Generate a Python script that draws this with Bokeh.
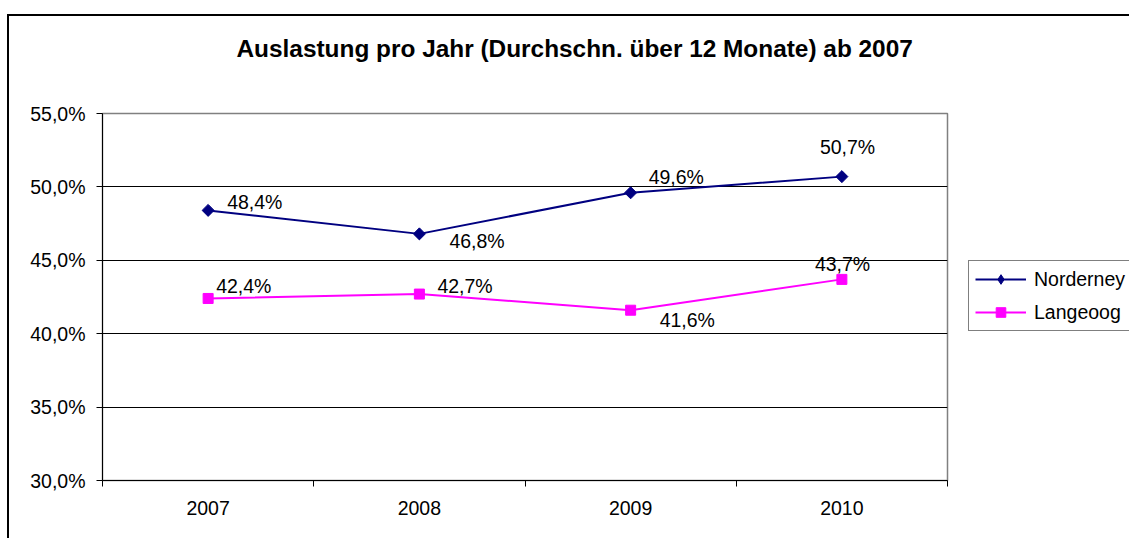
import numpy as np
from bokeh.plotting import figure
from bokeh.models import Range1d, FixedTicker, Legend, LegendItem, Title
from bokeh.core.properties import value
from bokeh.embed import file_html
from bokeh.resources import INLINE

# ---- data ----
years = ["2007", "2008", "2009", "2010"]
norderney = [48.4, 46.8, 49.6, 50.7]
langeoog = [42.4, 42.7, 41.6, 43.7]
y_ticks = [30, 35, 40, 45, 50, 55]
title_text = "Auslastung pro Jahr (Durchschn. über 12 Monate) ab 2007"

# ---- label offsets (style, screen px) ----
n_dx = [19, 30, 18, -22]
n_dy = [-8, 7, -16, -30]
l_dx = [8, 18, 29, -27]
l_dy = [-12, -8, 10, -15]

FONT = "Liberation Sans"
FS = "19.5px"
NAVY = "#000080"
MAGENTA = "#FF00FF"


def pct(v):
    return f"{v:.1f}".replace(".", ",") + "%"


xs = list(range(1, len(years) + 1))

p = figure(frame_width=845, frame_height=367,
           x_range=Range1d(0.5, len(years) + 0.5),
           y_range=Range1d(y_ticks[0], y_ticks[-1]),
           output_backend="svg", toolbar_location=None,
           min_border_left=102, min_border_right=182,
           min_border_top=113, min_border_bottom=58)
p.background_fill_color = "white"
p.border_fill_color = None
p.styles = {
    "background-color": "white",
    "background-image": "linear-gradient(#000, #000), linear-gradient(#000, #000)",
    "background-size": "2px 2000px, 3000px 2px",
    "background-position": "7px 14px, 7px 14px",
    "background-repeat": "no-repeat, no-repeat",
}
p.outline_line_color = "#808080"
p.outline_line_width = 1.5

# main title (plot title is always the outermost panel)
p.title.text = title_text
p.title.align = "left"
p.title.offset = 134
p.title.standoff = 0
p.title.vertical_align = "bottom"
p.title.text_font = FONT
p.title.text_font_style = "bold"
p.title.text_font_size = "24.4px"
p.title.text_color = "black"

# white spacer panel between the title and the plot frame
spacer = Title(text=".", text_color="white", text_font_size="10px", standoff=42)
p.add_layout(spacer, "above")

# x axis
xa = p.xaxis[0]
xa.ticker = FixedTicker(ticks=xs, minor_ticks=[x - 0.5 for x in xs] + [xs[-1] + 0.5])
xa.major_label_overrides = {x: y for x, y in zip(xs, years)}
xa.major_tick_out = 0
xa.major_tick_in = 0
xa.minor_tick_out = 6
xa.minor_tick_in = 0
xa.minor_tick_line_color = "black"
xa.axis_line_color = "black"
xa.major_label_standoff = 14
xa.major_label_text_font = FONT
xa.major_label_text_font_size = FS
xa.major_label_text_color = "black"

# y axis
ya = p.yaxis[0]
ya.ticker = FixedTicker(ticks=y_ticks)
ya.major_label_overrides = {t: pct(t) for t in y_ticks}
ya.major_tick_out = 6
ya.major_tick_in = 0
ya.major_tick_line_color = "black"
ya.axis_line_color = "black"
ya.major_label_standoff = 11
ya.major_label_text_font = FONT
ya.major_label_text_font_size = FS
ya.major_label_text_color = "black"

p.xgrid.visible = False
p.ygrid.ticker = FixedTicker(ticks=y_ticks)
p.ygrid.grid_line_color = "black"
p.ygrid.grid_line_width = 1

# series
ln = p.line(xs, norderney, line_color=NAVY, line_width=2)
sn = p.scatter(xs, norderney, marker="square", angle=np.pi / 4, size=8.5,
               fill_color=NAVY, line_color=NAVY)
# legend-only key (diamond) for Norderney
sn_key = p.scatter(xs, norderney, marker="diamond", size=12,
                   fill_color=NAVY, line_color=NAVY, visible=False)
ll = p.line(xs, langeoog, line_color=MAGENTA, line_width=2)
sl = p.scatter(xs, langeoog, marker="square", size=10,
               fill_color=MAGENTA, line_color=MAGENTA)

p.text(xs, norderney, text=[pct(v) for v in norderney],
       x_offset=n_dx, y_offset=n_dy,
       text_font=value(FONT), text_font_size=FS, text_color="black",
       text_align="left", text_baseline="middle")
p.text(xs, langeoog, text=[pct(v) for v in langeoog],
       x_offset=l_dx, y_offset=l_dy,
       text_font=value(FONT), text_font_size=FS, text_color="black",
       text_align="left", text_baseline="middle")

legend = Legend(items=[LegendItem(label="Norderney", renderers=[ln, sn_key]),
                       LegendItem(label="Langeoog", renderers=[ll, sl])],
                location=(21, 149),
                border_line_color="black", border_line_width=1,
                background_fill_color="white", background_fill_alpha=1,
                label_text_font=FONT, label_text_font_size=FS,
                label_text_color="black",
                glyph_width=51, glyph_height=24, label_height=20,
                label_standoff=8, spacing=9, padding=6, margin=0,
                title_standoff=0)
p.add_layout(legend, "right")

open("out.html", "w").write(file_html(p, INLINE))
